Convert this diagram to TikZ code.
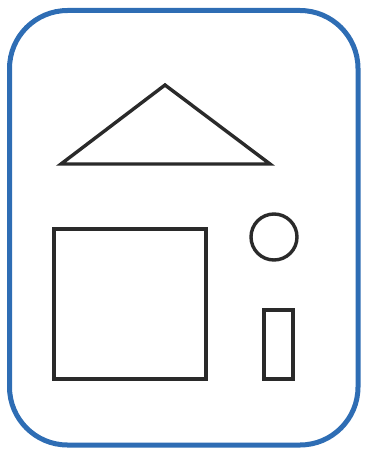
\documentclass[tikz,border=0pt]{standalone}
\definecolor{frameblue}{HTML}{2E6DB4}
\definecolor{ink}{HTML}{2A2A2A}
\tikzset{
  frame/.style={draw=frameblue, line width=5pt, rounded corners=58pt},
  shapeline/.style={draw=ink, line width=3.4pt, line join=miter}
}
\begin{document}
\begin{tikzpicture}[x=1pt,y=-1pt]
\useasboundingbox (0,0) rectangle (365,452);
\draw[frame] (9.5,10.5) rectangle (358,445);
\draw[shapeline] (61,164) -- (165,85) -- (270,164) -- cycle;
\draw[shapeline] (54,229) rectangle (206,379);
\draw[shapeline] (274,237) circle (23);
\draw[shapeline] (264,310) rectangle (293,379);
\end{tikzpicture}
\end{document}
